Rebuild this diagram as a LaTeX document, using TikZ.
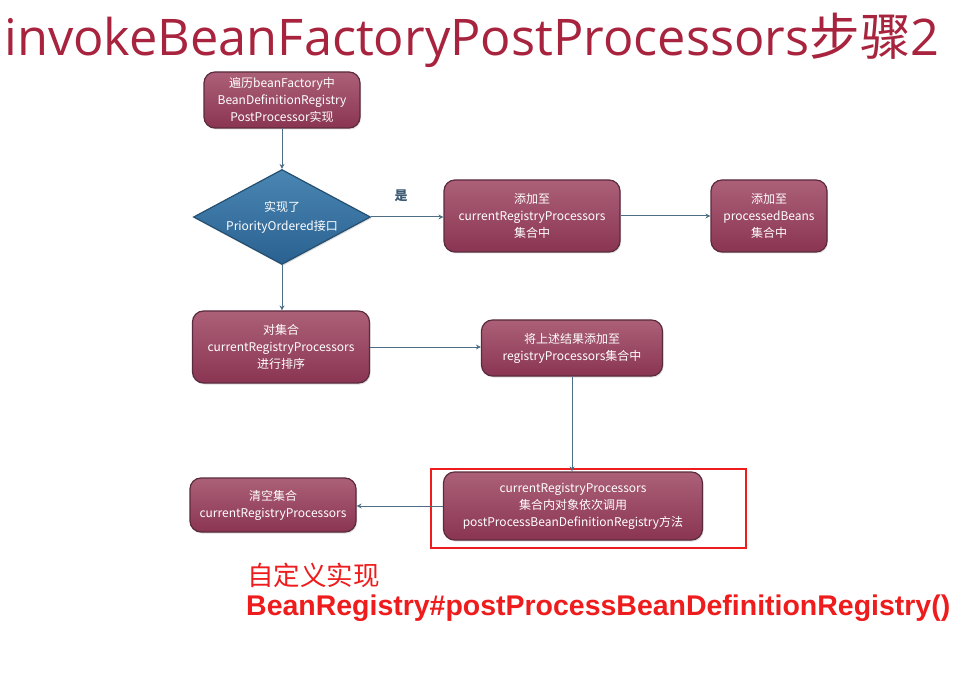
\documentclass[tikz,border=0pt]{standalone}
\usepackage{fontspec}
\usetikzlibrary{arrows.meta,shapes.geometric,shadows}
\newfontfamily\titlefont{Open Sans}
\newfontfamily\cjk{Noto Sans CJK SC}
\newfontfamily\boxfont{Noto Sans CJK SC}
\newfontfamily\redbold{Liberation Sans}
\definecolor{titlered}{HTML}{A8233D}
\definecolor{boxtop}{HTML}{AC6078}
\definecolor{boxbot}{HTML}{8A3552}
\definecolor{boxedge}{HTML}{5A2A3E}
\definecolor{diatop}{HTML}{4A86B3}
\definecolor{diabot}{HTML}{2A6190}
\definecolor{diaedge}{HTML}{244F70}
\definecolor{arrowc}{HTML}{4E6E85}
\definecolor{hlred}{HTML}{EE1C1C}
\definecolor{labelc}{HTML}{3D5A73}
\tikzset{
  procbox/.style={draw=boxedge, line width=1.2pt, rounded corners=11pt,
    top color=boxtop, bottom color=boxbot, inner sep=0pt,
    text=white, align=center, font=\boxfont\fontsize{12}{17}\selectfont,
    drop shadow={shadow xshift=1pt, shadow yshift=-1.5pt, opacity=0.25}},
  decbox/.style={diamond, draw=diaedge, line width=1.2pt,
    top color=diatop, bottom color=diabot, inner sep=0pt,
    drop shadow={shadow xshift=1pt, shadow yshift=-1.5pt, opacity=0.25}},
  conn/.style={draw=arrowc, line width=1pt, -{Stealth[length=5pt,width=5pt]}},
}
\begin{document}
\begin{tikzpicture}[x=1pt,y=-1pt]
\useasboundingbox[fill=white] (0,0) rectangle (962,687);

\node (title) at (472,40) {\color{titlered}\resizebox{935pt}{!}{\titlefont invokeBeanFactoryPostProcessors{\cjk 步骤}2}};

\node[procbox, minimum width=156pt, minimum height=56pt] (start) at (282,100)
  {遍历beanFactory中\\BeanDefinitionRegistry\\PostProcessor实现};
\node[decbox, minimum width=177pt, minimum height=95pt] (dia) at (282,217) {};
\node[text=white, align=center, font=\boxfont\fontsize{12}{19}\selectfont] (dialbl) at (282,217)
  {实现了\\PriorityOrdered接口};
\node[procbox, minimum width=176pt, minimum height=72pt] (add1) at (532,216)
  {添加至\\currentRegistryProcessors\\集合中};
\node[procbox, minimum width=116pt, minimum height=72pt] (add2) at (769,216)
  {添加至\\processedBeans\\集合中};
\node[procbox, minimum width=177pt, minimum height=72pt] (sort) at (281,347)
  {对集合\\currentRegistryProcessors\\进行排序};
\node[procbox, minimum width=181pt, minimum height=56pt] (reg) at (572,348)
  {将上述结果添加至\\registryProcessors集合中};
\node[procbox, minimum width=259pt, minimum height=68pt] (call) at (573,506)
  {currentRegistryProcessors\\集合内对象依次调用\\postProcessBeanDefinitionRegistry方法};
\node[procbox, minimum width=166pt, minimum height=54pt] (clear) at (273,505)
  {清空集合\\currentRegistryProcessors};

\node[draw=hlred, line width=2pt, minimum width=315pt, minimum height=79pt, inner sep=0pt] (hl) at (588.5,508.5) {};

\draw[conn] (start) -- (dia);
\draw[conn] (dia.east) -- (add1.west |- dia.east);
\draw[conn] (add1) -- (add2);
\draw[conn] (dia.south) -- (sort.north -| dia.south);
\draw[conn] (sort.east) -- (reg.west |- sort.east);
\draw[conn] (reg.south) -- (call.north -| reg.south);
\draw[conn] (call.west) -- (clear.east |- call.west);

\node[text=labelc, font=\cjk\bfseries\fontsize{13}{15}\selectfont] (yes) at (401,196) {是};

\node[anchor=west, text=hlred, font=\cjk\fontsize{26.5}{28}\selectfont, inner sep=0pt] (custom) at (247,575) {自定义实现};
\node[anchor=west, text=hlred, inner sep=0pt] (method) at (246,608)
  {\resizebox{704pt}{!}{\redbold\bfseries BeanRegistry\#postProcessBeanDefinitionRegistry()}};
\end{tikzpicture}
\end{document}
